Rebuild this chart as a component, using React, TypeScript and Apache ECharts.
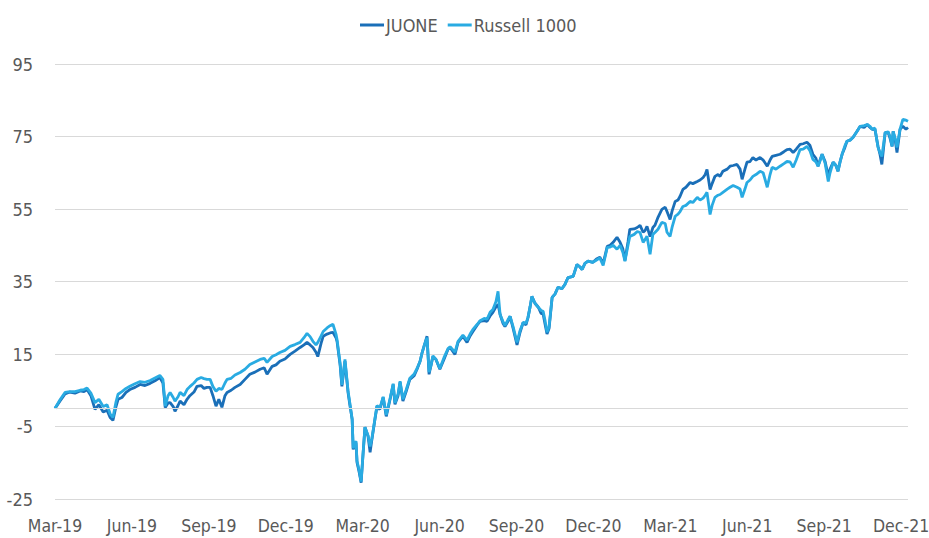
import React, { useEffect, useRef } from "react";
import * as echarts from "echarts";

// x positions: months elapsed since Mar-2019 (data runs slightly past Dec-21)
const monthOffsets = [
  0, 0.19, 0.39, 0.58, 0.78, 0.98, 1.13, 1.25, 1.4, 1.56, 1.71, 1.88, 2.03, 2.15, 2.26, 2.38, 2.46, 2.61, 2.77, 2.92,
  3.12, 3.32, 3.51, 3.71, 3.9, 4.09, 4.21, 4.3, 4.41, 4.49, 4.61, 4.68, 4.8, 4.88, 5.03, 5.15, 5.26, 5.42, 5.54, 5.7,
  5.81, 5.93, 6.05, 6.16, 6.28, 6.39, 6.51, 6.63, 6.71, 6.87, 7.02, 7.22, 7.41, 7.6, 7.8, 8.0, 8.16, 8.27, 8.47, 8.62,
  8.77, 8.97, 9.17, 9.36, 9.56, 9.71, 9.83, 9.95, 10.06, 10.18, 10.25, 10.38, 10.46, 10.61, 10.73, 10.84, 10.96, 11.0, 11.12, 11.19,
  11.31, 11.43, 11.5, 11.59, 11.63, 11.74, 11.78, 11.86, 11.94, 12.02, 12.09, 12.21, 12.29, 12.36, 12.48, 12.56, 12.67, 12.8, 12.92, 13.07,
  13.19, 13.26, 13.38, 13.46, 13.57, 13.69, 13.84, 14.01, 14.12, 14.24, 14.32, 14.43, 14.51, 14.59, 14.67, 14.74, 14.86, 15.01, 15.17, 15.33,
  15.41, 15.6, 15.72, 15.91, 16.07, 16.19, 16.3, 16.47, 16.58, 16.74, 16.85, 16.97, 17.08, 17.2, 17.28, 17.36, 17.47, 17.55, 17.67, 17.75,
  17.87, 18.02, 18.14, 18.26, 18.37, 18.45, 18.53, 18.6, 18.72, 18.85, 18.96, 19.04, 19.12, 19.19, 19.27, 19.39, 19.5, 19.62, 19.77, 19.89,
  20.01, 20.21, 20.36, 20.48, 20.56, 20.67, 20.79, 20.98, 21.14, 21.25, 21.38, 21.54, 21.65, 21.77, 21.92, 22.04, 22.15, 22.23, 22.35, 22.42,
  22.59, 22.71, 22.82, 22.94, 23.01, 23.09, 23.21, 23.32, 23.4, 23.52, 23.67, 23.8, 23.87, 23.99, 24.07, 24.19, 24.3, 24.38, 24.49, 24.61,
  24.77, 24.88, 25.05, 25.16, 25.28, 25.36, 25.43, 25.55, 25.63, 25.74, 25.86, 25.94, 26.05, 26.22, 26.33, 26.45, 26.6, 26.72, 26.8, 26.91,
  26.99, 27.11, 27.22, 27.34, 27.5, 27.62, 27.78, 27.89, 27.97, 28.12, 28.28, 28.43, 28.55, 28.67, 28.79, 28.91, 29.06, 29.18, 29.33, 29.45,
  29.56, 29.68, 29.76, 29.84, 29.92, 30.04, 30.16, 30.23, 30.35, 30.46, 30.54, 30.62, 30.7, 30.81, 30.89, 31.01, 31.13, 31.29, 31.4, 31.56,
  31.68, 31.79, 31.87, 31.98, 32.1, 32.18, 32.25, 32.38, 32.5, 32.57, 32.65, 32.69, 32.77, 32.84, 32.96, 33.07, 33.19, 33.27,
];

const juone = [
  0, 2.0, 4.0, 4.5, 4.2, 4.8, 4.6, 5.2, 3.5, -0.3, 1.0, -1.0, -0.5, -2.5, -3.3, 0.5, 2.5, 3.0, 4.4, 5.2,
  5.8, 6.6, 6.3, 6.9, 7.6, 8.5, 7.0, 0.2, 1.5, 1.6, 0.5, -0.8, 0.8, 2.0, 1.0, 2.5, 3.5, 4.5, 6.1, 6.3,
  5.5, 5.8, 5.8, 3.5, 0.6, 2.5, 0.3, 3.5, 4.4, 5.0, 5.8, 6.6, 8.0, 9.4, 10.0, 10.8, 11.2, 9.4, 11.6, 12.0,
  13.0, 13.6, 14.9, 15.8, 16.8, 17.5, 18.2, 17.5, 16.8, 15.5, 14.3, 18.0, 19.9, 20.5, 20.8, 21.0, 19.5, 18.5, 12.0, 6.1,
  13.0, 4.4, 1.0, -3.0, -11.3, -9.4, -14.9, -17.5, -20.5, -12.1, -5.2, -7.7, -12.1, -8.6, -3.0, 0.6, -0.3, 3.0, -2.2, 2.5,
  6.6, 1.1, 3.5, 7.2, 2.0, 4.5, 8.0, 9.0, 10.8, 13.0, 15.4, 18.0, 19.9, 9.4, 12.0, 14.3, 13.5, 10.8, 13.5, 16.3,
  16.8, 14.9, 18.2, 19.9, 18.2, 20.0, 21.2, 23.0, 24.0, 24.2, 24.0, 25.5, 26.5, 28.0, 28.7, 25.9, 23.5, 22.6, 24.0, 25.4,
  22.0, 17.5, 21.0, 23.7, 23.0, 25.1, 28.0, 30.9, 29.0, 27.9, 26.2, 26.0, 23.0, 20.5, 22.0, 30.6, 31.5, 33.4, 33.0, 34.2,
  36.1, 36.4, 39.7, 39.0, 38.3, 40.0, 40.6, 40.3, 41.3, 41.7, 40.0, 44.7, 45.0, 45.8, 47.2, 45.8, 44.0, 40.8, 46.0, 49.4,
  49.5, 49.9, 50.5, 48.6, 49.0, 50.2, 47.4, 49.9, 50.5, 52.7, 54.9, 55.5, 54.3, 52.1, 54.5, 57.1, 57.5, 58.5, 60.4, 61.0,
  62.3, 62.0, 62.6, 63.0, 63.7, 64.5, 65.9, 60.4, 62.0, 64.0, 64.5, 64.0, 65.4, 66.0, 66.8, 67.0, 67.3, 66.0, 63.2, 66.0,
  67.9, 68.1, 69.2, 68.5, 69.2, 68.5, 66.8, 68.5, 69.5, 69.8, 70.1, 70.8, 71.4, 71.5, 70.6, 71.5, 72.8, 73.0, 73.4, 72.5,
  70.1, 69.0, 66.8, 68.5, 70.1, 68.0, 64.0, 66.0, 67.9, 67.0, 65.4, 68.0, 70.1, 72.0, 73.7, 74.0, 74.8, 76.5, 77.8, 77.5,
  78.3, 77.5, 77.0, 77.0, 72.3, 70.0, 67.3, 76.1, 76.0, 74.5, 72.3, 76.4, 74.0, 70.6, 77.0, 77.8, 77.0, 77.5,
];

const russell1000 = [
  0, 2.3, 4.4, 4.6, 4.6, 5.0, 5.2, 5.6, 4.2, 1.6, 2.5, 0.5, 1.0, -1.5, -2.5, 1.8, 3.9, 4.6, 5.5, 6.1,
  6.8, 7.4, 7.2, 7.7, 8.4, 9.1, 8.0, 0.6, 3.5, 4.4, 3.0, 2.0, 3.2, 4.4, 3.5, 5.2, 6.0, 7.0, 8.0, 8.5,
  8.2, 8.0, 8.0, 6.0, 4.7, 5.5, 5.2, 7.0, 8.0, 8.3, 9.2, 9.9, 10.8, 12.1, 12.8, 13.5, 13.8, 12.7, 14.3, 14.8,
  15.4, 16.0, 17.1, 17.6, 18.2, 19.5, 20.7, 19.8, 18.5, 17.5, 18.2, 20.0, 21.2, 22.2, 22.8, 23.2, 20.5, 19.0, 12.5, 6.5,
  13.5, 4.8, 1.5, -3.0, -11.0, -9.0, -14.5, -17.0, -20.2, -12.0, -5.2, -7.5, -10.5, -8.3, -2.8, 0.8, 0.0, 3.2, -1.8, 2.8,
  6.8, 1.5, 4.0, 7.5, 2.5, 5.0, 8.3, 9.5, 11.0, 13.0, 15.4, 18.0, 19.5, 10.0, 12.0, 14.5, 13.5, 11.0, 14.0, 16.5,
  17.0, 15.5, 18.5, 20.2, 18.8, 20.5, 21.8, 23.2, 24.2, 24.8, 24.6, 26.5, 27.3, 29.5, 32.3, 25.9, 24.0, 22.8, 24.5, 25.4,
  22.5, 18.2, 21.5, 23.7, 23.5, 25.1, 28.0, 30.9, 29.0, 27.9, 27.0, 26.8, 24.0, 21.0, 22.5, 30.6, 31.5, 33.4, 33.0, 34.2,
  36.1, 36.4, 39.7, 39.0, 38.3, 40.0, 40.6, 40.3, 41.0, 41.5, 39.4, 44.4, 44.5, 45.0, 43.9, 45.0, 43.0, 40.6, 45.0, 47.4,
  48.0, 48.8, 48.5, 45.8, 46.5, 47.5, 42.5, 48.0, 48.5, 49.4, 51.3, 51.0, 48.6, 47.4, 50.0, 53.0, 53.6, 54.3, 55.7, 56.0,
  57.1, 56.8, 58.2, 57.5, 58.0, 58.8, 59.6, 53.5, 56.0, 58.2, 58.8, 59.0, 59.6, 60.5, 61.0, 61.5, 61.0, 60.5, 58.2, 60.5,
  62.3, 63.0, 64.0, 64.5, 65.4, 65.0, 61.0, 64.5, 66.5, 66.0, 66.8, 67.5, 68.1, 68.0, 66.5, 68.5, 71.4, 71.5, 72.3, 71.0,
  68.7, 68.0, 66.8, 68.3, 70.1, 67.5, 62.6, 65.0, 67.9, 67.0, 65.4, 68.0, 70.1, 72.5, 73.7, 74.0, 74.8, 76.5, 77.8, 78.0,
  78.3, 77.8, 77.0, 77.3, 72.0, 70.5, 69.5, 76.1, 76.3, 75.0, 72.3, 76.4, 74.5, 72.0, 77.0, 79.7, 79.5, 79.2,
];

const xTickLabels = [
  "Mar-19", "Jun-19", "Sep-19", "Dec-19", "Mar-20", "Jun-20", "Sep-20", "Dec-20", "Mar-21", "Jun-21", "Sep-21", "Dec-21",
];

const seriesNames = ["JUONE", "Russell 1000"];
const FONT = "'Liberation Sans Narrow', 'DejaVu Sans Condensed', 'Roboto', sans-serif";

export default function App() {
  const ref = useRef<HTMLDivElement>(null);
  useEffect(() => {
    if (!ref.current) return;
    const chart = echarts.init(ref.current, undefined, { renderer: "svg" });
    const pairs = (vals: number[]) => monthOffsets.map((m, i) => [m, vals[i]]);
    chart.setOption({
      animation: false,
      backgroundColor: "#ffffff",
      color: ["#1a6fb8", "#29abe2"],
      textStyle: { fontFamily: FONT },
      legend: {
        top: 11,
        left: 355,
        itemWidth: 24,
        itemHeight: 3,
        itemGap: 10,
        icon: "rect",
        textStyle: { fontFamily: FONT, fontSize: 18, color: "#595959", padding: [0, 0, 0, -3] },
        data: seriesNames,
      },
      grid: { left: 55, right: 21, top: 64, bottom: 39, containLabel: false, outerBoundsMode: "none" },
      xAxis: {
        type: "value",
        min: 0,
        max: 33.27,
        interval: 3,
        axisLine: { show: false },
        axisTick: { show: false },
        splitLine: { show: false },
        axisLabel: {
          margin: 18,
          fontFamily: FONT,
          fontSize: 17.5,
          color: "#595959",
          hideOverlap: false,
          showMaxLabel: true,
          formatter: (v: number) => {
            const q = v / 3;
            if (Math.abs(q - Math.round(q)) > 0.01) return "";
            return xTickLabels[Math.round(q)] ?? "";
          },
        },
      },
      yAxis: {
        type: "value",
        min: -25,
        max: 95,
        interval: 20,
        axisLine: { show: false },
        axisTick: { show: false },
        splitLine: { lineStyle: { color: "#d9d9d9", width: 1 } },
        axisLabel: { margin: 22, fontFamily: FONT, fontSize: 18, color: "#595959" },
      },
      series: [
        {
          name: seriesNames[0],
          type: "line",
          data: pairs(juone),
          showSymbol: false,
          symbol: "none",
          lineStyle: { width: 2.8 },
          markLine: {
            silent: true,
            symbol: "none",
            label: { show: false },
            lineStyle: { color: "#d9d9d9", width: 1, type: "solid" },
            data: [{ yAxis: 0 }],
          },
        },
        {
          name: seriesNames[1],
          type: "line",
          data: pairs(russell1000),
          showSymbol: false,
          symbol: "none",
          lineStyle: { width: 2.8 },
        },
      ],
    });
    return () => chart.dispose();
  }, []);
  return (
    <div
      ref={ref}
      style={{ position: "fixed", left: 0, top: 0, width: 929, height: 538 }}
    />
  );
}
